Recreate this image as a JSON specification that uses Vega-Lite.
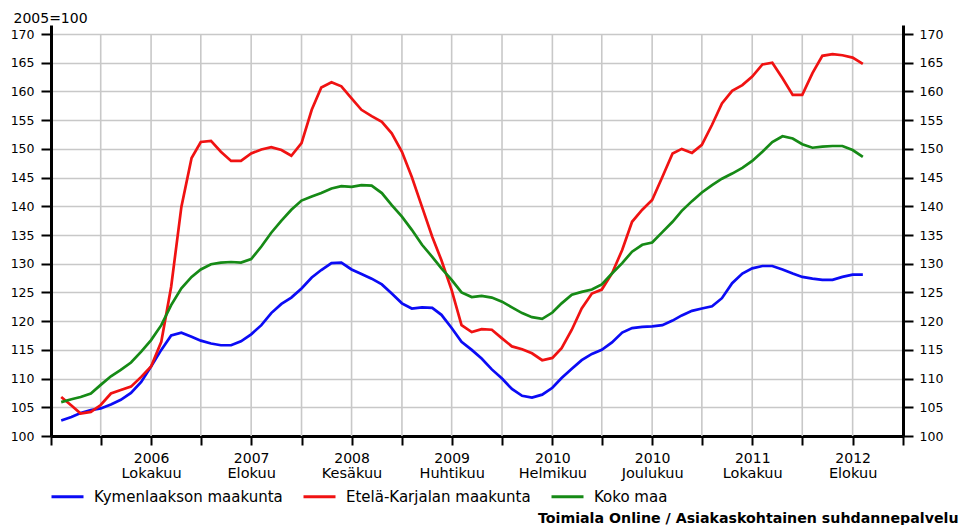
{
  "$schema": "https://vega.github.io/schema/vega-lite/v6.json",
  "width": 852,
  "height": 411,
  "autosize": {"type": "none"},
  "padding": {"left": 51, "top": 25, "right": 61, "bottom": 89},
  "background": "white",
  "config": {
    "view": {"stroke": null},
    "font": "DejaVu Sans",
    "axis": {"labelFont": "DejaVu Sans", "titleFont": "DejaVu Sans", "labelColor": "#000", "titleColor": "#000"}
  },
  "datasets": {
    "sarjat": [
      {"d":"2006-01-01","Kymenlaakson maakunta":102.7,"Etelä-Karjalan maakunta":106.8,"Koko maa":105.9},
      {"d":"2006-02-01","Kymenlaakson maakunta":103.3,"Etelä-Karjalan maakunta":105.3,"Koko maa":106.4},
      {"d":"2006-03-01","Kymenlaakson maakunta":104.0,"Etelä-Karjalan maakunta":103.9,"Koko maa":106.8},
      {"d":"2006-04-01","Kymenlaakson maakunta":104.5,"Etelä-Karjalan maakunta":104.2,"Koko maa":107.4},
      {"d":"2006-05-01","Kymenlaakson maakunta":104.8,"Etelä-Karjalan maakunta":105.4,"Koko maa":108.9},
      {"d":"2006-06-01","Kymenlaakson maakunta":105.5,"Etelä-Karjalan maakunta":107.4,"Koko maa":110.4},
      {"d":"2006-07-01","Kymenlaakson maakunta":106.3,"Etelä-Karjalan maakunta":108.0,"Koko maa":111.5},
      {"d":"2006-08-01","Kymenlaakson maakunta":107.5,"Etelä-Karjalan maakunta":108.6,"Koko maa":112.8},
      {"d":"2006-09-01","Kymenlaakson maakunta":109.4,"Etelä-Karjalan maakunta":110.3,"Koko maa":114.7},
      {"d":"2006-10-01","Kymenlaakson maakunta":112.1,"Etelä-Karjalan maakunta":112.1,"Koko maa":116.7},
      {"d":"2006-11-01","Kymenlaakson maakunta":115.0,"Etelä-Karjalan maakunta":116.4,"Koko maa":119.3},
      {"d":"2006-12-01","Kymenlaakson maakunta":117.5,"Etelä-Karjalan maakunta":126.0,"Koko maa":122.8},
      {"d":"2007-01-01","Kymenlaakson maakunta":118.0,"Etelä-Karjalan maakunta":139.9,"Koko maa":125.7},
      {"d":"2007-02-01","Kymenlaakson maakunta":117.3,"Etelä-Karjalan maakunta":148.4,"Koko maa":127.7},
      {"d":"2007-03-01","Kymenlaakson maakunta":116.6,"Etelä-Karjalan maakunta":151.2,"Koko maa":129.0},
      {"d":"2007-04-01","Kymenlaakson maakunta":116.1,"Etelä-Karjalan maakunta":151.4,"Koko maa":129.9},
      {"d":"2007-05-01","Kymenlaakson maakunta":115.8,"Etelä-Karjalan maakunta":149.5,"Koko maa":130.2},
      {"d":"2007-06-01","Kymenlaakson maakunta":115.8,"Etelä-Karjalan maakunta":147.9,"Koko maa":130.3},
      {"d":"2007-07-01","Kymenlaakson maakunta":116.5,"Etelä-Karjalan maakunta":147.9,"Koko maa":130.2},
      {"d":"2007-08-01","Kymenlaakson maakunta":117.7,"Etelä-Karjalan maakunta":149.2,"Koko maa":130.8},
      {"d":"2007-09-01","Kymenlaakson maakunta":119.3,"Etelä-Karjalan maakunta":149.9,"Koko maa":133.0},
      {"d":"2007-10-01","Kymenlaakson maakunta":121.4,"Etelä-Karjalan maakunta":150.3,"Koko maa":135.4},
      {"d":"2007-11-01","Kymenlaakson maakunta":123.0,"Etelä-Karjalan maakunta":149.8,"Koko maa":137.5},
      {"d":"2007-12-01","Kymenlaakson maakunta":124.1,"Etelä-Karjalan maakunta":148.8,"Koko maa":139.4},
      {"d":"2008-01-01","Kymenlaakson maakunta":125.7,"Etelä-Karjalan maakunta":151.0,"Koko maa":141.0},
      {"d":"2008-02-01","Kymenlaakson maakunta":127.6,"Etelä-Karjalan maakunta":156.8,"Koko maa":141.7},
      {"d":"2008-03-01","Kymenlaakson maakunta":128.9,"Etelä-Karjalan maakunta":160.7,"Koko maa":142.3},
      {"d":"2008-04-01","Kymenlaakson maakunta":130.1,"Etelä-Karjalan maakunta":161.6,"Koko maa":143.1},
      {"d":"2008-05-01","Kymenlaakson maakunta":130.2,"Etelä-Karjalan maakunta":160.9,"Koko maa":143.5},
      {"d":"2008-06-01","Kymenlaakson maakunta":129.0,"Etelä-Karjalan maakunta":158.8,"Koko maa":143.4},
      {"d":"2008-07-01","Kymenlaakson maakunta":128.2,"Etelä-Karjalan maakunta":156.8,"Koko maa":143.7},
      {"d":"2008-08-01","Kymenlaakson maakunta":127.4,"Etelä-Karjalan maakunta":155.7,"Koko maa":143.6},
      {"d":"2008-09-01","Kymenlaakson maakunta":126.4,"Etelä-Karjalan maakunta":154.7,"Koko maa":142.3},
      {"d":"2008-10-01","Kymenlaakson maakunta":124.8,"Etelä-Karjalan maakunta":152.7,"Koko maa":140.2},
      {"d":"2008-11-01","Kymenlaakson maakunta":123.1,"Etelä-Karjalan maakunta":149.5,"Koko maa":138.2},
      {"d":"2008-12-01","Kymenlaakson maakunta":122.2,"Etelä-Karjalan maakunta":145.1,"Koko maa":135.9},
      {"d":"2009-01-01","Kymenlaakson maakunta":122.4,"Etelä-Karjalan maakunta":139.9,"Koko maa":133.3},
      {"d":"2009-02-01","Kymenlaakson maakunta":122.3,"Etelä-Karjalan maakunta":134.7,"Koko maa":131.2},
      {"d":"2009-03-01","Kymenlaakson maakunta":121.1,"Etelä-Karjalan maakunta":130.6,"Koko maa":129.2},
      {"d":"2009-04-01","Kymenlaakson maakunta":118.8,"Etelä-Karjalan maakunta":125.4,"Koko maa":127.2},
      {"d":"2009-05-01","Kymenlaakson maakunta":116.4,"Etelä-Karjalan maakunta":119.3,"Koko maa":125.0},
      {"d":"2009-06-01","Kymenlaakson maakunta":115.0,"Etelä-Karjalan maakunta":118.1,"Koko maa":124.2},
      {"d":"2009-07-01","Kymenlaakson maakunta":113.5,"Etelä-Karjalan maakunta":118.6,"Koko maa":124.4},
      {"d":"2009-08-01","Kymenlaakson maakunta":111.6,"Etelä-Karjalan maakunta":118.5,"Koko maa":124.1},
      {"d":"2009-09-01","Kymenlaakson maakunta":110.0,"Etelä-Karjalan maakunta":117.0,"Koko maa":123.4},
      {"d":"2009-10-01","Kymenlaakson maakunta":108.2,"Etelä-Karjalan maakunta":115.6,"Koko maa":122.4},
      {"d":"2009-11-01","Kymenlaakson maakunta":107.0,"Etelä-Karjalan maakunta":115.1,"Koko maa":121.4},
      {"d":"2009-12-01","Kymenlaakson maakunta":106.7,"Etelä-Karjalan maakunta":114.4,"Koko maa":120.7},
      {"d":"2010-01-01","Kymenlaakson maakunta":107.2,"Etelä-Karjalan maakunta":113.2,"Koko maa":120.4},
      {"d":"2010-02-01","Kymenlaakson maakunta":108.4,"Etelä-Karjalan maakunta":113.6,"Koko maa":121.5},
      {"d":"2010-03-01","Kymenlaakson maakunta":110.1,"Etelä-Karjalan maakunta":115.3,"Koko maa":123.1},
      {"d":"2010-04-01","Kymenlaakson maakunta":111.7,"Etelä-Karjalan maakunta":118.5,"Koko maa":124.6},
      {"d":"2010-05-01","Kymenlaakson maakunta":113.2,"Etelä-Karjalan maakunta":122.2,"Koko maa":125.1},
      {"d":"2010-06-01","Kymenlaakson maakunta":114.3,"Etelä-Karjalan maakunta":124.8,"Koko maa":125.5},
      {"d":"2010-07-01","Kymenlaakson maakunta":115.0,"Etelä-Karjalan maakunta":125.5,"Koko maa":126.4},
      {"d":"2010-08-01","Kymenlaakson maakunta":116.3,"Etelä-Karjalan maakunta":128.3,"Koko maa":128.3},
      {"d":"2010-09-01","Kymenlaakson maakunta":118.0,"Etelä-Karjalan maakunta":132.4,"Koko maa":130.1},
      {"d":"2010-10-01","Kymenlaakson maakunta":118.8,"Etelä-Karjalan maakunta":137.3,"Koko maa":132.1},
      {"d":"2010-11-01","Kymenlaakson maakunta":119.0,"Etelä-Karjalan maakunta":139.4,"Koko maa":133.3},
      {"d":"2010-12-01","Kymenlaakson maakunta":119.1,"Etelä-Karjalan maakunta":141.1,"Koko maa":133.7},
      {"d":"2011-01-01","Kymenlaakson maakunta":119.3,"Etelä-Karjalan maakunta":145.1,"Koko maa":135.5},
      {"d":"2011-02-01","Kymenlaakson maakunta":120.1,"Etelä-Karjalan maakunta":149.2,"Koko maa":137.3},
      {"d":"2011-03-01","Kymenlaakson maakunta":121.0,"Etelä-Karjalan maakunta":150.0,"Koko maa":139.2},
      {"d":"2011-04-01","Kymenlaakson maakunta":121.8,"Etelä-Karjalan maakunta":149.3,"Koko maa":140.9},
      {"d":"2011-05-01","Kymenlaakson maakunta":122.2,"Etelä-Karjalan maakunta":150.7,"Koko maa":142.4},
      {"d":"2011-06-01","Kymenlaakson maakunta":122.6,"Etelä-Karjalan maakunta":154.2,"Koko maa":143.7},
      {"d":"2011-07-01","Kymenlaakson maakunta":124.0,"Etelä-Karjalan maakunta":157.9,"Koko maa":144.8},
      {"d":"2011-08-01","Kymenlaakson maakunta":126.6,"Etelä-Karjalan maakunta":160.1,"Koko maa":145.7},
      {"d":"2011-09-01","Kymenlaakson maakunta":128.3,"Etelä-Karjalan maakunta":161.1,"Koko maa":146.7},
      {"d":"2011-10-01","Kymenlaakson maakunta":129.2,"Etelä-Karjalan maakunta":162.6,"Koko maa":147.9},
      {"d":"2011-11-01","Kymenlaakson maakunta":129.6,"Etelä-Karjalan maakunta":164.7,"Koko maa":149.5},
      {"d":"2011-12-01","Kymenlaakson maakunta":129.6,"Etelä-Karjalan maakunta":165.0,"Koko maa":151.2},
      {"d":"2012-01-01","Kymenlaakson maakunta":129.0,"Etelä-Karjalan maakunta":162.3,"Koko maa":152.2},
      {"d":"2012-02-01","Kymenlaakson maakunta":128.3,"Etelä-Karjalan maakunta":159.4,"Koko maa":151.8},
      {"d":"2012-03-01","Kymenlaakson maakunta":127.7,"Etelä-Karjalan maakunta":159.4,"Koko maa":150.8},
      {"d":"2012-04-01","Kymenlaakson maakunta":127.4,"Etelä-Karjalan maakunta":163.2,"Koko maa":150.2},
      {"d":"2012-05-01","Kymenlaakson maakunta":127.2,"Etelä-Karjalan maakunta":166.2,"Koko maa":150.4},
      {"d":"2012-06-01","Kymenlaakson maakunta":127.2,"Etelä-Karjalan maakunta":166.5,"Koko maa":150.5},
      {"d":"2012-07-01","Kymenlaakson maakunta":127.7,"Etelä-Karjalan maakunta":166.3,"Koko maa":150.5},
      {"d":"2012-08-01","Kymenlaakson maakunta":128.1,"Etelä-Karjalan maakunta":165.9,"Koko maa":149.8},
      {"d":"2012-09-01","Kymenlaakson maakunta":128.1,"Etelä-Karjalan maakunta":164.8,"Koko maa":148.6}
    ],
    "pystyviivat": [
      {"g":"2006-05-01"},{"g":"2006-10-01"},{"g":"2007-03-01"},{"g":"2007-08-01"},
      {"g":"2008-01-01"},{"g":"2008-06-01"},{"g":"2008-11-01"},{"g":"2009-04-01"},
      {"g":"2009-09-01"},{"g":"2010-02-01"},{"g":"2010-07-01"},{"g":"2010-12-01"},
      {"g":"2011-05-01"},{"g":"2011-10-01"},{"g":"2012-03-01"},{"g":"2012-08-01"}
    ]
  },
  "layer": [
    {
      "data": {"name": "pystyviivat"},
      "mark": {"type": "rule", "color": "#c8c8c8", "strokeWidth": 1.6},
      "encoding": {
        "x": {
          "field": "g", "type": "temporal",
          "scale": {"type": "utc", "domain": [{"year": 2005, "month": 12, "date": 1, "utc": true}, {"year": 2013, "month": 1, "date": 1, "utc": true}], "nice": false},
          "axis": null
        },
        "y": {"datum": 100, "type": "quantitative", "scale": {"domain": [100, 171.57], "nice": false, "zero": false}, "axis": null},
        "y2": {"datum": 170}
      }
    },
    {
      "data": {"name": "sarjat"},
      "transform": [
        {"fold": ["Kymenlaakson maakunta", "Etelä-Karjalan maakunta", "Koko maa"], "as": ["sarja", "arvo"]}
      ],
      "mark": {"type": "line", "strokeWidth": 2.7, "interpolate": "linear"},
      "encoding": {
        "x": {
          "field": "d", "type": "temporal",
          "scale": {"type": "utc", "domain": [{"year": 2005, "month": 12, "date": 1, "utc": true}, {"year": 2013, "month": 1, "date": 1, "utc": true}], "nice": false},
          "axis": {
            "orient": "bottom",
            "values": [
              {"year": 2005, "month": 12, "date": 1, "utc": true},
              {"year": 2006, "month": 5, "date": 1, "utc": true},
              {"year": 2006, "month": 10, "date": 1, "utc": true},
              {"year": 2007, "month": 3, "date": 1, "utc": true},
              {"year": 2007, "month": 8, "date": 1, "utc": true},
              {"year": 2008, "month": 1, "date": 1, "utc": true},
              {"year": 2008, "month": 6, "date": 1, "utc": true},
              {"year": 2008, "month": 11, "date": 1, "utc": true},
              {"year": 2009, "month": 4, "date": 1, "utc": true},
              {"year": 2009, "month": 9, "date": 1, "utc": true},
              {"year": 2010, "month": 2, "date": 1, "utc": true},
              {"year": 2010, "month": 7, "date": 1, "utc": true},
              {"year": 2010, "month": 12, "date": 1, "utc": true},
              {"year": 2011, "month": 5, "date": 1, "utc": true},
              {"year": 2011, "month": 10, "date": 1, "utc": true},
              {"year": 2012, "month": 3, "date": 1, "utc": true},
              {"year": 2012, "month": 8, "date": 1, "utc": true},
              {"year": 2013, "month": 1, "date": 1, "utc": true}
            ],
            "labelExpr": "((utcyear(datum.value)*12 + utcmonth(datum.value) - 24071) % 10 == 0 && utcyear(datum.value) > 2005) ? toString(utcyear(datum.value)) : ''",
            "labelOverlap": false,
            "labelFontSize": 14,
            "labelPadding": 6,
            "labelBaseline": "top",
            "labelAlign": "center",
            "labelFlush": false,
            "domainColor": "#000",
            "domainWidth": 3,
            "tickColor": "#000",
            "tickWidth": 2,
            "tickSize": 9,
            "grid": false,
            "title": null
          }
        },
        "y": {
          "field": "arvo", "type": "quantitative",
          "scale": {"domain": [100, 171.57], "nice": false, "zero": false},
          "axis": {
            "orient": "left",
            "values": [100,105,110,115,120,125,130,135,140,145,150,155,160,165,170],
            "labelFontSize": 12.5,
            "labelPadding": 7,
            "domainColor": "#000",
            "domainWidth": 3,
            "tickColor": "#000",
            "tickWidth": 2,
            "tickSize": 10,
            "grid": true,
            "gridColor": "#c8c8c8",
            "gridWidth": 1.6,
            "title": "2005=100",
            "titleAngle": 0,
            "titleFontSize": 14,
            "titleFontWeight": "normal",
            "titleX": -38,
            "titleY": -3,
            "titleAlign": "left",
            "titleBaseline": "alphabetic"
          }
        },
        "color": {
          "field": "sarja", "type": "nominal",
          "scale": {"domain": ["Kymenlaakson maakunta", "Etelä-Karjalan maakunta", "Koko maa"], "range": ["#0b0bf5", "#f01212", "#168a16"]},
          "legend": {
            "title": null,
            "orient": "none",
            "legendX": -1,
            "legendY": 454,
            "direction": "horizontal",
            "symbolType": "stroke",
            "symbolSize": 1024,
            "symbolStrokeWidth": 3,
            "labelFontSize": 15,
            "labelFont": "DejaVu Sans",
            "labelColor": "#000",
            "labelOffset": 9,
            "columnPadding": 14,
            "padding": 0,
            "labelLimit": 400
          }
        }
      }
    },
    {
      "data": {"name": "sarjat"},
      "transform": [
        {"fold": ["Kymenlaakson maakunta", "Etelä-Karjalan maakunta", "Koko maa"], "as": ["sarja", "arvo"]}
      ],
      "mark": {"type": "line", "strokeOpacity": 0},
      "encoding": {
        "x": {
          "field": "d", "type": "temporal",
          "scale": {"type": "utc", "domain": [{"year": 2005, "month": 12, "date": 1, "utc": true}, {"year": 2013, "month": 1, "date": 1, "utc": true}], "nice": false},
          "axis": {
            "orient": "bottom",
            "values": [
              {"year": 2006, "month": 10, "date": 1, "utc": true},
              {"year": 2007, "month": 8, "date": 1, "utc": true},
              {"year": 2008, "month": 6, "date": 1, "utc": true},
              {"year": 2009, "month": 4, "date": 1, "utc": true},
              {"year": 2010, "month": 2, "date": 1, "utc": true},
              {"year": 2010, "month": 12, "date": 1, "utc": true},
              {"year": 2011, "month": 10, "date": 1, "utc": true},
              {"year": 2012, "month": 8, "date": 1, "utc": true}
            ],
            "labelExpr": "['Tammikuu','Helmikuu','Maaliskuu','Huhtikuu','Toukokuu','Kesäkuu','Heinäkuu','Elokuu','Syyskuu','Lokakuu','Marraskuu','Joulukuu'][utcmonth(datum.value)]",
            "labelOverlap": false,
            "labelFontSize": 14.5,
            "labelPadding": 21,
            "labelBaseline": "top",
            "labelAlign": "center",
            "labelFlush": false,
            "domain": false,
            "ticks": true,
            "tickSize": 9,
            "tickOpacity": 0,
            "grid": false,
            "title": "Toimiala Online / Asiakaskohtainen suhdannepalvelu",
            "titleFontSize": 14.2,
            "titleFontWeight": "bold",
            "titleX": 907,
            "titleY": 86,
            "titleAlign": "right",
            "titleBaseline": "alphabetic"
          }
        },
        "y": {
          "field": "arvo", "type": "quantitative",
          "scale": {"domain": [100, 171.57], "nice": false, "zero": false},
          "axis": {
            "orient": "right",
            "values": [100,105,110,115,120,125,130,135,140,145,150,155,160,165,170],
            "labelFontSize": 12.5,
            "labelPadding": 6,
            "domainColor": "#000",
            "domainWidth": 3,
            "tickColor": "#000",
            "tickWidth": 2,
            "tickSize": 10,
            "grid": false,
            "title": null
          }
        },
        "detail": {"field": "sarja", "type": "nominal"}
      }
    }
  ],
  "resolve": {"scale": {"y": "independent", "x": "independent"}}
}
